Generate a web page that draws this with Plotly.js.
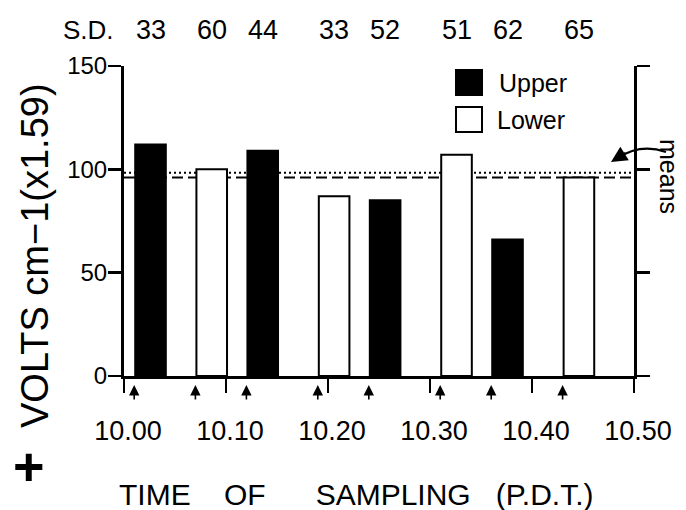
<!DOCTYPE html>
<html><head><meta charset="utf-8">
<script src="https://cdn.plot.ly/plotly-3.0.1.min.js"></script>
<style>html,body{margin:0;padding:0;background:#fff}#chart{width:686px;height:510px}</style>
</head><body><div id="chart"></div>
<script>
// ---- data (minutes after 10.00 P.D.T.) ----
const upperTimes = [1, 12, 24, 36];
const upperValues = [112, 109, 85, 66];
const lowerTimes = [7, 19, 31, 43];
const lowerValues = [100, 87, 107, 96];
const samplingTimes = [1, 7, 12, 19, 24, 31, 36, 43];
const sdValues = [33, 60, 44, 33, 52, 51, 62, 65];
const meanValues = [98.3, 96.1];           // dotted, dashed
const tickMinutes = [0, 10, 20, 30, 40, 50];
const tickLabels = ['10.00', '10.10', '10.20', '10.30', '10.40', '10.50'];
const yTicks = [0, 50, 100, 150];
const legendNames = ['Upper', 'Lower'];

// ---- layout helpers ----
const L = 124, R = 634, T = 66, B = 376;
const px = v => (v - L) / (R - L);
const py = v => (B - v) / (B - T);
const FONT = 'Liberation Sans, Arial, Helvetica, sans-serif';
const BAR_W = 3.0, BAR_OFF = 0.1;

const traces = [
  {type: 'bar', name: legendNames[0], x: upperTimes, y: upperValues, width: BAR_W, offset: BAR_OFF,
   marker: {color: '#000', line: {color: '#000', width: 2}}, showlegend: false, hoverinfo: 'skip'},
  {type: 'bar', name: legendNames[1], x: lowerTimes, y: lowerValues, width: BAR_W, offset: BAR_OFF,
   marker: {color: '#fff', line: {color: '#000', width: 2}}, showlegend: false, hoverinfo: 'skip'},
  {type: 'scatter', x: [], y: [], yaxis: 'y2', showlegend: false, hoverinfo: 'skip'}
];

const annotations = [];
// sampling arrows
samplingTimes.forEach(t => annotations.push({
  x: t, xref: 'x', y: py(385), yref: 'paper', text: '', showarrow: true,
  ax: 0, ay: 16, arrowhead: 2, arrowsize: 1.3, arrowwidth: 1.6, arrowcolor: '#000'
}));
// S.D. row
annotations.push({x: px(88), xref: 'paper', y: py(30), yref: 'paper', text: 'S.D.', showarrow: false,
  font: {family: FONT, size: 26, color: '#000'}, xanchor: 'center', yanchor: 'middle'});
samplingTimes.forEach((t, i) => annotations.push({
  x: t + BAR_OFF + BAR_W / 2, xref: 'x', y: py(30), yref: 'paper', text: String(sdValues[i]),
  showarrow: false, font: {family: FONT, size: 27, color: '#000'}, xanchor: 'center', yanchor: 'middle'
}));
// legend text
annotations.push({x: px(497), xref: 'paper', y: py(83), yref: 'paper', text: legendNames[0], showarrow: false,
  font: {family: FONT, size: 25, color: '#000'}, xanchor: 'left', yanchor: 'middle'});
annotations.push({x: px(495), xref: 'paper', y: py(120), yref: 'paper', text: legendNames[1], showarrow: false,
  font: {family: FONT, size: 25, color: '#000'}, xanchor: 'left', yanchor: 'middle'});
// means label + arrowhead
annotations.push({x: px(669), xref: 'paper', y: py(176), yref: 'paper', text: 'means', showarrow: false,
  textangle: 90, font: {family: FONT, size: 25, color: '#000'}, xanchor: 'center', yanchor: 'middle'});
annotations.push({x: px(611), xref: 'paper', y: py(162), yref: 'paper', text: '', showarrow: true,
  ax: 16, ay: -10, arrowhead: 2, arrowsize: 1.6, arrowwidth: 2, arrowcolor: '#000'});
// axis titles
annotations.push({x: px(35), xref: 'paper', y: py(256), yref: 'paper', text: 'VOLTS cm\u22121(x1.59)',
  showarrow: false, textangle: -90, font: {family: FONT, size: 38, color: '#000'}, xanchor: 'center', yanchor: 'middle'});
annotations.push({x: px(29), xref: 'paper', y: py(466), yref: 'paper', text: '<b>+</b>',
  showarrow: false, font: {family: FONT, size: 54, color: '#000'}, xanchor: 'center', yanchor: 'middle'});
annotations.push({x: px(356), xref: 'paper', y: py(494), yref: 'paper',
  text: 'TIME\u00a0\u00a0\u00a0 OF\u00a0\u00a0\u00a0\u00a0\u00a0 SAMPLING\u00a0\u00a0 (P.D.T.)',
  showarrow: false, font: {family: FONT, size: 30, color: '#000'}, xanchor: 'center', yanchor: 'middle'});

const shapes = [
  {type: 'line', layer: 'below', xref: 'x', yref: 'y', x0: 0, x1: 50, y0: meanValues[0], y1: meanValues[0],
   line: {color: '#000', width: 2, dash: '2px,3px'}},
  {type: 'line', layer: 'below', xref: 'x', yref: 'y', x0: 0, x1: 50, y0: meanValues[1], y1: meanValues[1],
   line: {color: '#000', width: 2, dash: '11px,5px'}},
  // legend swatches
  {type: 'rect', xref: 'paper', yref: 'paper', x0: px(456), x1: px(482), y0: py(95), y1: py(70),
   fillcolor: '#000', line: {color: '#000', width: 2}},
  {type: 'rect', xref: 'paper', yref: 'paper', x0: px(456), x1: px(482), y0: py(132), y1: py(107),
   fillcolor: '#fff', line: {color: '#000', width: 2}},
  // curved arrow body for "means"
  {type: 'path', xref: 'paper', yref: 'paper',
   path: `M ${px(666)} ${py(152)} Q ${px(640)} ${py(143)} ${px(618)} ${py(158)}`,
   line: {color: '#000', width: 2}}
];

const layout = {
  width: 686, height: 510,
  margin: {l: L, r: 686 - R, t: T, b: 510 - B, pad: 0},
  paper_bgcolor: '#fff', plot_bgcolor: '#fff',
  barmode: 'overlay', showlegend: false,
  font: {family: FONT, color: '#000'},
  xaxis: {range: [0, 50], tickvals: tickMinutes, ticktext: tickLabels, ticks: 'outside', ticklen: 14,
    tickwidth: 2, tickcolor: '#000', showline: true, linewidth: 3, linecolor: '#000', showgrid: false,
    zeroline: false, ticklabelstandoff: 15, ticklabelshift: 4,
    tickfont: {family: FONT, size: 27, color: '#000'}, fixedrange: true},
  yaxis: {range: [0, 150], tickvals: yTicks, ticks: 'outside', ticklen: 13, tickwidth: 2.5, tickcolor: '#000',
    showline: true, linewidth: 3, linecolor: '#000', showgrid: false, zeroline: false, ticklabelstandoff: -4,
    tickfont: {family: FONT, size: 24, color: '#000'}, fixedrange: true},
  yaxis2: {range: [0, 150], overlaying: 'y', side: 'right', tickvals: yTicks, ticks: 'outside', ticklen: 13,
    tickwidth: 2.5, tickcolor: '#000', showline: true, linewidth: 3, linecolor: '#000', showgrid: false,
    zeroline: false, showticklabels: false, fixedrange: true},
  annotations: annotations,
  shapes: shapes
};

Plotly.newPlot('chart', traces, layout, {staticPlot: true, displayModeBar: false});
</script></body></html>
